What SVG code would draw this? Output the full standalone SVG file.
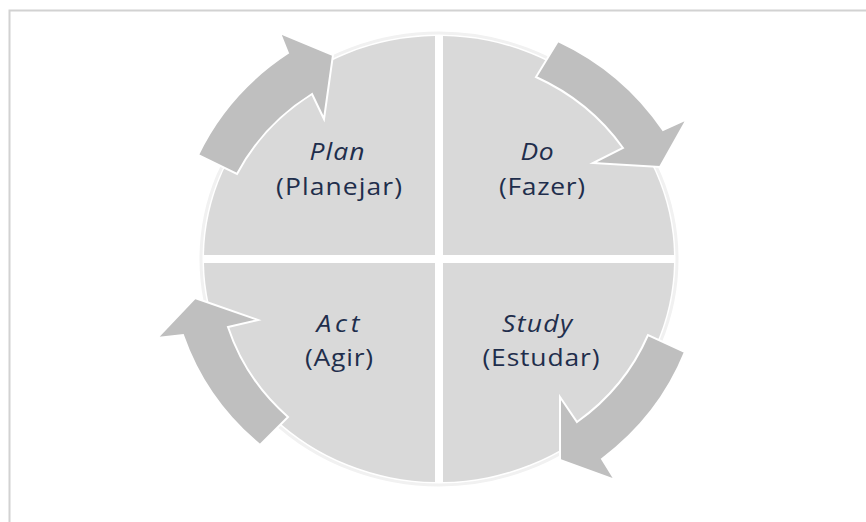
<svg xmlns="http://www.w3.org/2000/svg" width="866" height="522" viewBox="0 0 866 522">
  <style>
    .quad { fill: #d9d9d9; }
    .arrow { fill: #bfbfbf; stroke: #ffffff; stroke-width: 2; stroke-linejoin: miter; }
    .label { font-family: "Open Sans", "Liberation Sans", sans-serif; font-size: 23px; fill: #1f2e4c; text-anchor: middle; }
    .en { font-style: italic; }
  </style>

  <!-- page background and frame -->
  <rect x="0" y="0" width="866" height="522" fill="#ffffff"/>
  <path d="M9.5,522 V10.5 H866" fill="none" stroke="#d2d2d2" stroke-width="2"/>

  <!-- soft rim around the cycle disc -->
  <ellipse cx="439" cy="259" rx="238" ry="226" fill="none" stroke="#f1f1f1" stroke-width="3"/>

  <!-- quadrants; labels are set in a horizontally widened frame (scale 1.15) -->
  <g id="plan">
    <path class="quad" d="M435,255 L204,255 A235 223 0 0 1 435,36 Z"/>
    <g transform="scale(1.15,1)">
      <text class="label en" x="293" y="160" textLength="47.8" lengthAdjust="spacing">Plan</text>
      <text class="label" x="294.8" y="195" textLength="109.6" lengthAdjust="spacing">(Planejar)</text>
    </g>
  </g>
  <g id="do">
    <path class="quad" d="M443,255 L443,36 A235 223 0 0 1 674,255 Z"/>
    <g transform="scale(1.15,1)">
      <text class="label en" x="467" y="160" textLength="28.7" lengthAdjust="spacing">Do</text>
      <text class="label" x="471.3" y="195" textLength="74.8" lengthAdjust="spacing">(Fazer)</text>
    </g>
  </g>
  <g id="act">
    <path class="quad" d="M435,263 L435,482 A235 223 0 0 1 204,263 Z"/>
    <g transform="scale(1.15,1)">
      <text class="label en" x="293.9" y="332" textLength="37.4" lengthAdjust="spacing">Act</text>
      <text class="label" x="294.8" y="366" textLength="59.1" lengthAdjust="spacing">(Agir)</text>
    </g>
  </g>
  <g id="study">
    <path class="quad" d="M443,263 L674,263 A235 223 0 0 1 443,482 Z"/>
    <g transform="scale(1.15,1)">
      <text class="label en" x="467" y="332" textLength="60.9" lengthAdjust="spacing">Study</text>
      <text class="label" x="470.4" y="366" textLength="101.7" lengthAdjust="spacing">(Estudar)</text>
    </g>
  </g>

  <!-- curved cycle arrows -->
  <g id="connectors">
    <path class="arrow" d="M198,155 A264 251 0 0 1 288,53 L280,33 L333,55 L324,119 L312,94 A219 208 0 0 0 237,174 Z"/>
    <path class="arrow" d="M558,41 A264 251 0 0 1 663,130 L687,119 L660,167 L593,163 L623,148 A219 208 0 0 0 536,77 Z"/>
    <path class="arrow" d="M685,352 A264 251 0 0 1 602,459 L615,480 L560,460 L560,397 L577,422 A219 208 0 0 0 648,335 Z"/>
    <path class="arrow" d="M260,445 A264 251 0 0 1 183,335 L157,338 L195,298 L258,320 L228,327 A219 208 0 0 0 288,417 Z"/>
  </g>
</svg>
